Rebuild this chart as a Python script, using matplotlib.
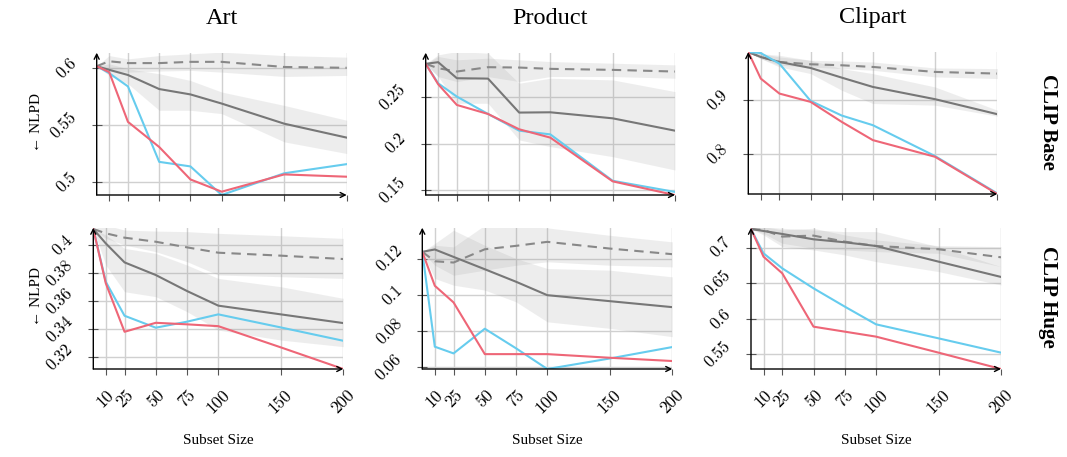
import matplotlib
matplotlib.use("Agg")
import matplotlib.pyplot as plt
from matplotlib.ticker import FuncFormatter

# ---------------- data ----------------
subset_sizes = [0, 10, 25, 50, 75, 100, 150, 200]
x_ticks = [10, 25, 50, 75, 100, 150, 200]
domains = ["Art", "Product", "Clipart"]
models = ["CLIP Base", "CLIP Huge"]

# CLIP Base - Art
art_base_red = [0.6017, 0.5965, 0.553, 0.531, 0.5026, 0.4919, 0.507, 0.505]
art_base_cyan = [0.6017, 0.5956, 0.584, 0.518, 0.514, 0.489, 0.508, 0.516]
art_base_solid = [0.6017, 0.5985, 0.594, 0.5817, 0.577, 0.569, 0.5514, 0.5392]
art_base_solid_lo = [0.6017, 0.5936, 0.5863, 0.5631, 0.5631, 0.5602, 0.5355, 0.5253]
art_base_solid_hi = [0.6017, 0.6038, 0.5994, 0.5951, 0.5892, 0.5791, 0.5674, 0.5544]
art_base_dashed = [0.6017, 0.606, 0.6044, 0.6044, 0.6055, 0.6055, 0.601, 0.6003]
art_base_dashed_lo = [0.6017, 0.598, 0.5965, 0.5974, 0.598, 0.5965, 0.5927, 0.5936]
art_base_dashed_hi = [0.6017, 0.611, 0.6081, 0.611, 0.6125, 0.614, 0.611, 0.6096]

# CLIP Base - Product
product_base_red = [0.286, 0.264, 0.2417, 0.232, 0.2155, 0.2065, 0.1594, 0.1446]
product_base_cyan = [0.286, 0.265, 0.2507, 0.232, 0.214, 0.210, 0.160, 0.148]
product_base_solid = [0.286, 0.2878, 0.2705, 0.2701, 0.2335, 0.2338, 0.2273, 0.214]
product_base_solid_lo = [0.286, 0.2723, 0.2435, 0.2435, 0.204, 0.1968, 0.186, 0.1716]
product_base_solid_hi = [0.286, 0.2957, 0.2993, 0.2975, 0.2651, 0.2705, 0.2687, 0.2561]
product_base_dashed = [0.286, 0.2813, 0.2777, 0.2824, 0.282, 0.2806, 0.2795, 0.2777]
product_base_dashed_lo = [0.286, 0.2723, 0.2669, 0.2723, 0.2669, 0.2723, 0.2723, 0.2705]
product_base_dashed_hi = [0.286, 0.2939, 0.2903, 0.2921, 0.2903, 0.2885, 0.2867, 0.2849]

# CLIP Base - Clipart
clipart_base_red = [0.990, 0.9404, 0.9124, 0.8969, 0.8596, 0.8255, 0.7944, 0.7249]
clipart_base_cyan = [0.990, 0.988, 0.9683, 0.8988, 0.8714, 0.8534, 0.7957, 0.726]
clipart_base_solid = [0.990, 0.9807, 0.9714, 0.9602, 0.9422, 0.9248, 0.9019, 0.8739]
clipart_base_solid_lo = [0.990, 0.9776, 0.9621, 0.9497, 0.9186, 0.8938, 0.8907, 0.8702]
clipart_base_solid_hi = [0.990, 0.9869, 0.9838, 0.9745, 0.959, 0.9497, 0.9248, 0.8814]
clipart_base_dashed = [0.990, 0.9807, 0.9714, 0.9671, 0.9652, 0.9621, 0.9528, 0.9497]
clipart_base_dashed_lo = [0.990, 0.9776, 0.9652, 0.9621, 0.959, 0.9559, 0.9435, 0.9404]
clipart_base_dashed_hi = [0.990, 0.9869, 0.9807, 0.9745, 0.9733, 0.9714, 0.9602, 0.959]

# CLIP Huge - Art
art_huge_red = [0.4112, 0.3725, 0.338, 0.3444, 0.3433, 0.342, 0.3269, 0.3115]
art_huge_cyan = [0.4112, 0.3736, 0.3494, 0.3409, 0.3452, 0.3504, 0.3411, 0.3316]
art_huge_solid = [0.4112, 0.4009, 0.3874, 0.3784, 0.367, 0.3566, 0.3504, 0.3442]
art_huge_solid_lo = [0.4112, 0.3855, 0.3665, 0.363, 0.3523, 0.3392, 0.3321, 0.3274]
art_huge_solid_hi = [0.4112, 0.4069, 0.3974, 0.3938, 0.3855, 0.376, 0.3701, 0.3618]
art_huge_dashed = [0.4112, 0.4081, 0.405, 0.4021, 0.3981, 0.3943, 0.3922, 0.3898]
art_huge_dashed_lo = [0.4112, 0.4045, 0.3998, 0.395, 0.3879, 0.3784, 0.3772, 0.376]
art_huge_dashed_hi = [0.4112, 0.414, 0.4104, 0.4097, 0.4093, 0.4081, 0.4064, 0.4045]

# CLIP Huge - Product
product_huge_red = [0.1237, 0.105, 0.0958, 0.0673, 0.0673, 0.0673, 0.0653, 0.0635]
product_huge_cyan = [0.1237, 0.0714, 0.0677, 0.0813, 0.0705, 0.0591, 0.0649, 0.0712]
product_huge_solid = [0.1237, 0.125, 0.1209, 0.1141, 0.1072, 0.0998, 0.0965, 0.0932]
product_huge_solid_lo = [0.1237, 0.109, 0.1053, 0.1026, 0.0961, 0.0851, 0.0815, 0.0769]
product_huge_solid_hi = [0.1237, 0.1283, 0.1356, 0.1273, 0.1200, 0.1145, 0.1136, 0.1099]
product_huge_dashed = [0.1237, 0.1185, 0.1178, 0.1251, 0.127, 0.1292, 0.1255, 0.1224]
product_huge_dashed_lo = [0.1237, 0.1163, 0.1108, 0.1136, 0.1163, 0.1182, 0.1163, 0.1154]
product_huge_dashed_hi = [0.1237, 0.1273, 0.1264, 0.1384, 0.138, 0.1369, 0.1328, 0.1292]

# CLIP Huge - Clipart
clipart_huge_red = [0.7262, 0.6873, 0.6639, 0.5889, 0.5819, 0.5749, 0.5524, 0.5294]
clipart_huge_cyan = [0.7262, 0.692, 0.6709, 0.6428, 0.6171, 0.5922, 0.5725, 0.5524]
clipart_huge_solid = [0.7262, 0.7234, 0.7192, 0.7117, 0.7075, 0.7023, 0.6803, 0.6588]
clipart_huge_solid_lo = [0.7262, 0.7178, 0.7014, 0.6967, 0.6897, 0.6803, 0.6663, 0.6475]
clipart_huge_solid_hi = [0.7262, 0.7295, 0.7272, 0.7248, 0.7225, 0.7225, 0.7014, 0.6733]
clipart_huge_dashed = [0.7262, 0.7248, 0.7155, 0.7169, 0.7084, 0.7023, 0.6977, 0.6864]
clipart_huge_dashed_lo = [0.7262, 0.7201, 0.7061, 0.6991, 0.6967, 0.6944, 0.692, 0.6733]
clipart_huge_dashed_hi = [0.7262, 0.7295, 0.7248, 0.7272, 0.7178, 0.7108, 0.7028, 0.7014]

y_limits = {
    ("CLIP Base", "Art"): (0.489, 0.6135),
    ("CLIP Base", "Product"): (0.1447, 0.298),
    ("CLIP Base", "Clipart"): (0.7249, 0.990),
    ("CLIP Huge", "Art"): (0.3115, 0.4121),
    ("CLIP Huge", "Product"): (0.0591, 0.137),
    ("CLIP Huge", "Clipart"): (0.5294, 0.728),
}
y_ticks = {
    ("CLIP Base", "Art"): [0.5, 0.55, 0.6],
    ("CLIP Base", "Product"): [0.15, 0.2, 0.25],
    ("CLIP Base", "Clipart"): [0.8, 0.9],
    ("CLIP Huge", "Art"): [0.32, 0.34, 0.36, 0.38, 0.4],
    ("CLIP Huge", "Product"): [0.06, 0.08, 0.1, 0.12],
    ("CLIP Huge", "Clipart"): [0.55, 0.6, 0.65, 0.7],
}

panels = {
    ("CLIP Base", "Art"): (art_base_red, art_base_cyan, art_base_solid, art_base_solid_lo, art_base_solid_hi,
                           art_base_dashed, art_base_dashed_lo, art_base_dashed_hi),
    ("CLIP Base", "Product"): (product_base_red, product_base_cyan, product_base_solid, product_base_solid_lo,
                               product_base_solid_hi, product_base_dashed, product_base_dashed_lo,
                               product_base_dashed_hi),
    ("CLIP Base", "Clipart"): (clipart_base_red, clipart_base_cyan, clipart_base_solid, clipart_base_solid_lo,
                               clipart_base_solid_hi, clipart_base_dashed, clipart_base_dashed_lo,
                               clipart_base_dashed_hi),
    ("CLIP Huge", "Art"): (art_huge_red, art_huge_cyan, art_huge_solid, art_huge_solid_lo, art_huge_solid_hi,
                           art_huge_dashed, art_huge_dashed_lo, art_huge_dashed_hi),
    ("CLIP Huge", "Product"): (product_huge_red, product_huge_cyan, product_huge_solid, product_huge_solid_lo,
                               product_huge_solid_hi, product_huge_dashed, product_huge_dashed_lo,
                               product_huge_dashed_hi),
    ("CLIP Huge", "Clipart"): (clipart_huge_red, clipart_huge_cyan, clipart_huge_solid, clipart_huge_solid_lo,
                               clipart_huge_solid_hi, clipart_huge_dashed, clipart_huge_dashed_lo,
                               clipart_huge_dashed_hi),
}

# ---------------- layout (pixel boxes: x0, x1, ytop, ybottom) ----------------
W, H = 1067, 457
boxes = {
    ("CLIP Base", "Art"): (96.7, 346.7, 52.7, 195),
    ("CLIP Base", "Product"): (425.7, 675, 52.7, 195),
    ("CLIP Base", "Clipart"): (748.3, 997.3, 52, 194),
    ("CLIP Huge", "Art"): (93.3, 343.3, 227.7, 369),
    ("CLIP Huge", "Product"): (422.3, 672.3, 227.7, 369),
    ("CLIP Huge", "Clipart"): (751, 1001, 227.7, 369),
}

RED = "#EE6677"
CYAN = "#66CCEE"
GRAY = "#777777"
DGRAY = "#888888"
FILL = "#9a9a9a"

serif = ["Liberation Serif", "DejaVu Serif"]
tickfont = ["cmr10", "DejaVu Serif"]

fig = plt.figure(figsize=(W / 100, H / 100), dpi=100)

fmt = FuncFormatter(lambda v, p: ("%g" % v))

for (model, dom), (x0, x1, yt, yb) in boxes.items():
    ax = fig.add_axes([x0 / W, 1 - yb / H, (x1 - x0) / W, (yb - yt) / H])
    red, cyan, solid, slo, shi, dashed, dlo, dhi = panels[(model, dom)]
    ax.fill_between(subset_sizes, slo, shi, color=FILL, alpha=0.17, lw=0, zorder=1)
    ax.fill_between(subset_sizes, dlo, dhi, color=FILL, alpha=0.17, lw=0, zorder=1)
    ax.plot(subset_sizes, dashed, color=DGRAY, lw=1.5, dashes=(4.5, 3), zorder=3)
    ax.plot(subset_sizes, solid, color=GRAY, lw=1.5, zorder=3)
    ax.plot(subset_sizes, cyan, color=CYAN, lw=1.5, zorder=4)
    ax.plot(subset_sizes, red, color=RED, lw=1.5, zorder=5)

    ax.set_xlim(0, 200)
    ax.set_ylim(*y_limits[(model, dom)])
    ax.set_xticks(x_ticks)
    ax.set_yticks(y_ticks[(model, dom)])
    ax.yaxis.set_major_formatter(fmt)
    ax.grid(True, color="#d0d0d0", lw=1.0, zorder=0)
    ax.set_axisbelow(True)
    for s in ax.spines.values():
        s.set_visible(False)
    ax.tick_params(axis="y", direction="inout", length=7, width=0.8, color="#555555", pad=9)
    ax.tick_params(axis="x", direction="out", length=4, width=0.8, color="#555555", pad=9)
    for lab in ax.get_yticklabels():
        lab.set_rotation(45)
        lab.set_family(tickfont)
        lab.set_fontsize(12)
        lab.set_ha("right")
        lab.set_va("center")
    if model == "CLIP Huge":
        for lab in ax.get_xticklabels():
            lab.set_rotation(45)
            lab.set_family(tickfont)
            lab.set_fontsize(12.5)
            lab.set_ha("center")
            lab.set_va("top")
    else:
        ax.set_xticklabels([])

    ax.annotate("", xy=(1, 0), xytext=(0, 0), xycoords="axes fraction",
                arrowprops=dict(arrowstyle="->", lw=1.0, color="black", shrinkA=0, shrinkB=0,
                                mutation_scale=9), annotation_clip=False, zorder=6)
    ax.annotate("", xy=(0, 1), xytext=(0, 0), xycoords="axes fraction",
                arrowprops=dict(arrowstyle="->", lw=1.0, color="black", shrinkA=0, shrinkB=0,
                                mutation_scale=9), annotation_clip=False, zorder=6)

    cx = (x0 + x1) / 2 / W
    if model == "CLIP Base":
        fig.text(cx, 1 - 18 / H, dom, ha="center", va="center", family=serif, fontsize=17.5)
    else:
        fig.text(cx, 1 - 440 / H, "Subset Size", ha="center", va="center", family=serif, fontsize=11)

for model, yc in zip(models, [122, 297]):
    fig.text(36 / W, 1 - yc / H, "\u2190 NLPD", rotation=90, ha="center", va="center",
             family=serif, fontsize=11)
    fig.text(1048 / W, 1 - yc / H, model, rotation=-90, ha="center", va="center",
             family=serif, fontsize=15, fontweight="bold")

fig.savefig("out.png", dpi=100)
